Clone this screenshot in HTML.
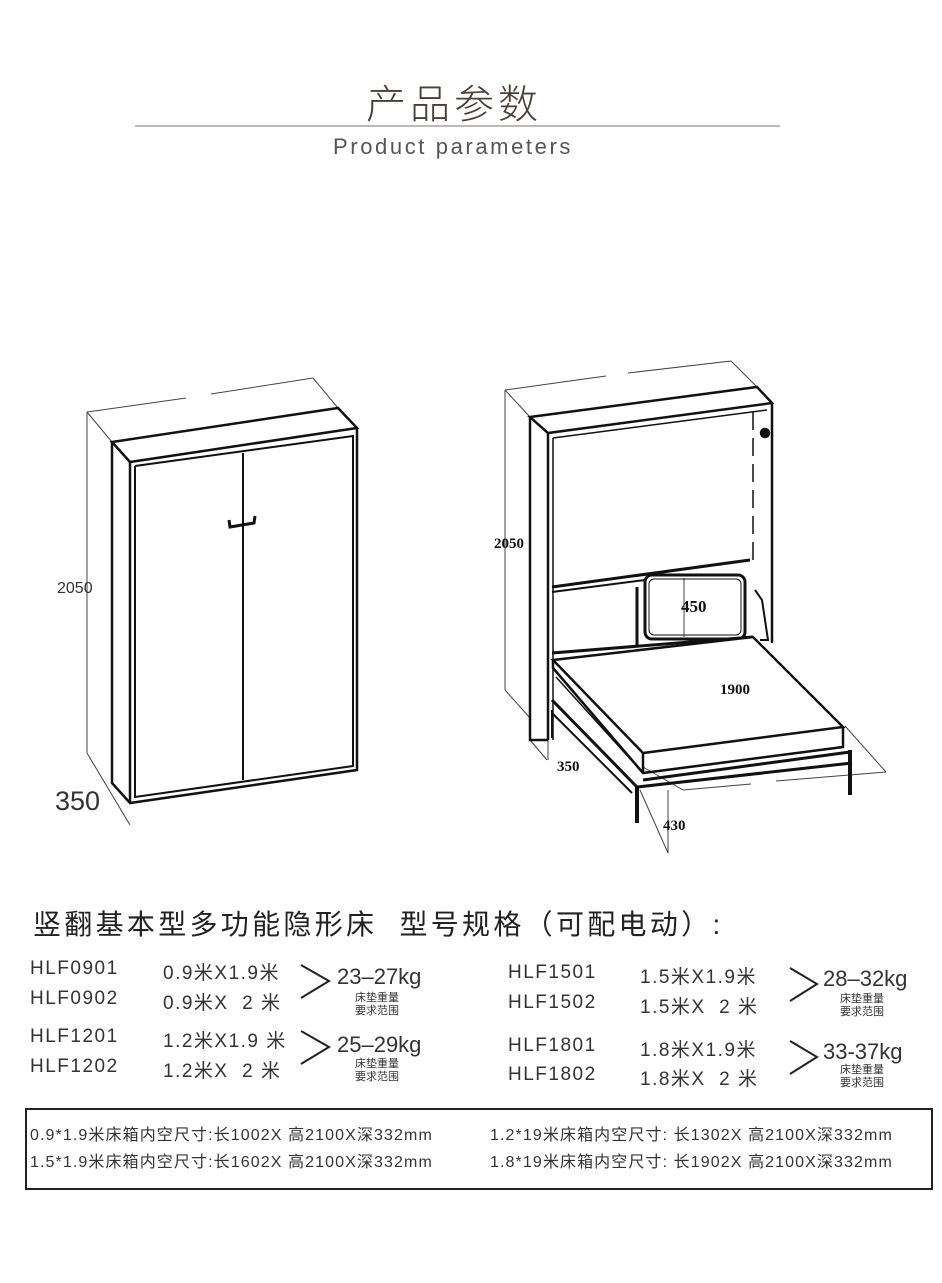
<!DOCTYPE html>
<html><head><meta charset="utf-8"><style>
body{margin:0;width:942px;height:1283px;background:#fff;position:relative;overflow:hidden;font-family:"Liberation Sans","Noto Sans CJK SC",sans-serif;color:#333}
.a{position:absolute;white-space:nowrap}
.t{font-size:19px;letter-spacing:1.5px;color:#333}
.k{font-size:22px;letter-spacing:0px;color:#333}
.s{font-size:11px;line-height:13px;color:#333}
.b{font-size:16px;letter-spacing:1.1px;color:#333}
</style></head><body>
<div class="a" style="left:366px;top:72px;font-size:40px;letter-spacing:4px;color:#4a3f35;font-weight:300">产品参数</div>
<div class="a" style="left:135px;top:125px;width:645px;height:2px;background:#bbb"></div>
<div class="a" style="left:333px;top:134px;font-size:22px;letter-spacing:2.6px;color:#555">Product parameters</div>

<svg class="a" style="left:0;top:0" width="942" height="1110" viewBox="0 0 942 1110" fill="none" stroke="#111">
<g stroke-width="1">
<line x1="87" y1="412" x2="186" y2="398" stroke="#444"/><line x1="211" y1="394" x2="313" y2="378" stroke="#444"/>
<line x1="313" y1="378" x2="338" y2="408" stroke="#444"/>
<line x1="87" y1="412" x2="112" y2="442" stroke="#444"/>
<line x1="87" y1="412" x2="87" y2="753" stroke="#444"/>
<line x1="87" y1="753" x2="130" y2="825" stroke="#444"/>
</g>
<g stroke-width="2.5">
<polygon points="112,442 338,408 357,428 130,462" fill="#fff"/>
<polyline points="112,442 112,783 130,803 357,770 357,428"/>
<line x1="130" y1="462" x2="130" y2="803"/>
<polyline points="135,466 353,436 353,766 135,797 135,466" stroke-width="2"/>
<line x1="243" y1="453" x2="243" y2="780" stroke-width="2"/>
<path d="M229,520 L230,527 L254,523 L255,516" stroke-width="3"/>
</g>
<text x="57" y="593" font-family="Liberation Sans" font-size="16" fill="#333" stroke="none">2050</text>
<text x="55" y="810" font-family="Liberation Sans" font-size="27" fill="#333" stroke="none">350</text>

<g stroke-width="1" stroke="#444">
<line x1="505" y1="390" x2="606" y2="376"/><line x1="628" y1="373" x2="731" y2="361"/>
<line x1="731" y1="361" x2="757" y2="387"/>
<line x1="505" y1="390" x2="530" y2="417"/>
<line x1="505" y1="390" x2="505" y2="690"/>
<line x1="505" y1="690" x2="530" y2="718"/>
<line x1="530" y1="740" x2="547" y2="760"/>
<line x1="548" y1="740" x2="548" y2="760"/>
<line x1="684" y1="578" x2="684" y2="637"/>
<line x1="687" y1="643" x2="773" y2="716"/>
<line x1="845" y1="726" x2="886" y2="772"/>
<line x1="886" y1="772" x2="776" y2="781"/><line x1="751" y1="784" x2="683" y2="790"/>
<line x1="643" y1="767" x2="683" y2="790"/>
<line x1="640" y1="790" x2="668" y2="853"/>
<line x1="668" y1="790" x2="668" y2="853"/>
</g>
<g stroke-width="2.5">
<polygon points="530,417 757,387 772,403 548,433" fill="#fff"/>
<polyline points="530,417 530,740 548,740"/>
<line x1="548" y1="433" x2="548" y2="740"/>
<polyline points="772,403 772,643"/>
<polyline points="553,438 767,410" stroke-width="1.5"/>
<line x1="553" y1="438" x2="553" y2="740" stroke-width="1.5"/>
<line x1="753" y1="412" x2="753" y2="560" stroke-width="1.5" stroke-dasharray="18,8"/>
<circle cx="765" cy="433" r="4" fill="#111"/>
<line x1="552" y1="587" x2="750" y2="560" stroke-width="3"/>
<line x1="552" y1="592" x2="645" y2="580" stroke-width="2"/>
<line x1="552" y1="653" x2="753" y2="637" stroke-width="3"/>
<rect x="645" y="575" width="100" height="64" rx="7" stroke-width="3"/>
<rect x="649" y="579" width="92" height="56" rx="5" stroke-width="1"/>
<line x1="637" y1="587" x2="637" y2="647" stroke-width="3"/>
<polyline points="755,590 762,600 768,640 760,640" stroke-width="2"/>
<polygon points="553,660 753,637 843,727 643,753" fill="#fff"/>
<polyline points="553,660 553,668 643,773 843,747 843,727" />
<line x1="643" y1="753" x2="643" y2="773"/>
<line x1="556" y1="677" x2="643" y2="773" stroke-width="1.5"/>
<polyline points="552,700 637,787 852,763" stroke-width="3"/>
<polyline points="552,713 632,793" stroke-width="2"/>
<line x1="643" y1="780" x2="850" y2="752" stroke-width="3"/>
<line x1="637" y1="787" x2="637" y2="823" stroke-width="4"/>
<line x1="850" y1="750" x2="850" y2="795" stroke-width="4"/>
<line x1="552" y1="710" x2="552" y2="738" stroke-width="2"/>
</g>
<g font-family="Liberation Serif" font-weight="bold" font-size="15" fill="#111" stroke="none">
<text x="494" y="548">2050</text>
<text x="681" y="612" font-size="17">450</text>
<text x="720" y="694">1900</text>
<text x="557" y="771">350</text>
<text x="663" y="830">430</text>
</g>
<g stroke="#222" stroke-width="2">
<polyline points="301,965 329,981 301,998"/>
<polyline points="301,1031 329,1047 301,1064"/>
<polyline points="790,968 817,984 790,1001"/>
<polyline points="790,1041 817,1057 790,1074"/>
</g>
</svg>

<div class="a" style="left:33px;top:903px;font-size:28px;letter-spacing:3.3px;color:#222">竖翻基本型多功能隐形床&nbsp; 型号规格（可配电动）:</div>

<div class="a t" style="left:30px;top:958px">HLF0901</div>
<div class="a t" style="left:30px;top:988px">HLF0902</div>
<div class="a t" style="left:163px;top:958px">0.9米X1.9米</div>
<div class="a t" style="left:163px;top:988px">0.9米X&nbsp; 2 米</div>
<div class="a k" style="left:337px;top:964px">23–27kg</div>
<div class="a s" style="left:355px;top:992px">床垫重量<br>要求范围</div>

<div class="a t" style="left:30px;top:1026px">HLF1201</div>
<div class="a t" style="left:30px;top:1056px">HLF1202</div>
<div class="a t" style="left:163px;top:1026px">1.2米X1.9 米</div>
<div class="a t" style="left:163px;top:1056px">1.2米X&nbsp; 2 米</div>
<div class="a k" style="left:337px;top:1032px">25–29kg</div>
<div class="a s" style="left:355px;top:1058px">床垫重量<br>要求范围</div>

<div class="a t" style="left:508px;top:962px">HLF1501</div>
<div class="a t" style="left:508px;top:992px">HLF1502</div>
<div class="a t" style="left:640px;top:962px">1.5米X1.9米</div>
<div class="a t" style="left:640px;top:992px">1.5米X&nbsp; 2 米</div>
<div class="a k" style="left:823px;top:966px">28–32kg</div>
<div class="a s" style="left:840px;top:993px">床垫重量<br>要求范围</div>

<div class="a t" style="left:508px;top:1035px">HLF1801</div>
<div class="a t" style="left:508px;top:1064px">HLF1802</div>
<div class="a t" style="left:640px;top:1035px">1.8米X1.9米</div>
<div class="a t" style="left:640px;top:1064px">1.8米X&nbsp; 2 米</div>
<div class="a k" style="left:823px;top:1039px">33-37kg</div>
<div class="a s" style="left:840px;top:1064px">床垫重量<br>要求范围</div>

<div class="a" style="left:25px;top:1108px;width:904px;height:78px;border:2px solid #222"></div>
<div class="a b" style="left:30px;top:1121px">0.9*1.9米床箱内空尺寸:长1002X 高2100X深332mm</div>
<div class="a b" style="left:490px;top:1121px">1.2*19米床箱内空尺寸: 长1302X 高2100X深332mm</div>
<div class="a b" style="left:30px;top:1148px">1.5*1.9米床箱内空尺寸:长1602X 高2100X深332mm</div>
<div class="a b" style="left:490px;top:1148px">1.8*19米床箱内空尺寸: 长1902X 高2100X深332mm</div>
</body></html>
